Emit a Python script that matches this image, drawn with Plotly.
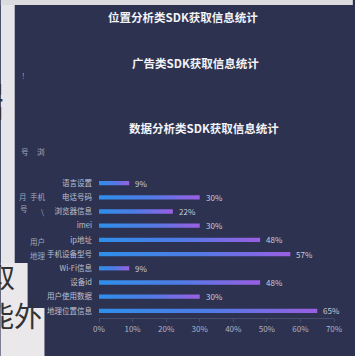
import plotly.graph_objects as go

# ---- data ----
categories = ["语言设置", "电话号码", "浏览器信息", "imei", "ip地址",
              "手机设备型号", "Wi-Fi信息", "设备id", "用户使用数据", "地理位置信息"]
values = [9, 30, 22, 30, 48, 57, 9, 48, 30, 65]
x_ticks = [0, 10, 20, 30, 40, 50, 60, 70]
x_tick_labels = ["0%", "10%", "20%", "30%", "40%", "50%", "60%", "70%"]
titles = ["位置分析类SDK获取信息统计", "广告类SDK获取信息统计", "数据分析类SDK获取信息统计"]

# ---- layout geometry ----
FW, FH = 355, 356
L, R, T, B = 99, 19, 176, 38
PW, PH = FW - L - R, FH - T - B
NAVY = "#2d3250"
LIGHT = "#e6e6ea"
FONT = "Noto Sans CJK SC"


def px(x):
    return (x - L) / PW


def py(y):
    return (FH - B - y) / PH


fig = go.Figure()

half = 0.15
for i, (c, v) in enumerate(zip(categories, values)):
    fig.add_trace(go.Scatter(
        x=[0, v, v, 0, 0],
        y=[i - half, i - half, i + half, i + half, i - half],
        mode="lines", fill="toself",
        fillgradient=dict(type="horizontal",
                          colorscale=[[0, "#2f8fea"], [0.5, "#4f7be6"], [1, "#9a5fe2"]]),
        line=dict(width=0), hoverinfo="skip", showlegend=False))

annotations = []
for i, v in enumerate(values):
    annotations.append(dict(x=v, y=i, xref="x", yref="y", text=f"{v}%",
                            showarrow=False, xanchor="left", xshift=4,
                            font=dict(family=FONT, size=8, color="#c9ccdc")))

# titles
for t, (cx, cy) in zip(titles, [(184, 17), (196, 63), (205, 128)]):
    annotations.append(dict(x=px(cx), y=py(cy), xref="paper", yref="paper", text=f"<b>{t}</b>",
                            showarrow=False, xanchor="center", yanchor="middle",
                            font=dict(family=FONT, size=11.5, color="#f2f2f7")))

# faint labels from slides behind
faint = [("ǃ", 23, 75), ("号", 24, 151), ("浏", 41, 151), ("月", 22, 196), ("手机", 37, 196),
         ("号", 23, 208), ("\\", 42, 211), ("用户", 37, 241), ("地理", 37, 255)]
for t, x, y in faint:
    annotations.append(dict(x=px(x), y=py(y), xref="paper", yref="paper", text=t,
                            showarrow=False, xanchor="center", yanchor="middle",
                            font=dict(family=FONT, size=7.5, color="#a3a8bf")))

# large dark text on the light slide at left
for t, x, y, s in [("据", 5, 99, 40), ("取", 16, 276, 28), ("能外", 44, 315, 28)]:
    annotations.append(dict(x=px(x), y=py(y), xref="paper", yref="paper", text=t,
                            showarrow=False, xanchor="right", yanchor="middle",
                            font=dict(family=FONT, size=s, color="#333333")))

shapes = []
for x0, y0, x1, y1, col in [(0, 0, 14, 356, LIGHT), (0, 0, 355, 5, "#dcdce0"),
                            (0, 263, 27, 356, "#ebe8ec"), (0, 308, 44, 356, "#ebe8ec")]:
    shapes.append(dict(type="rect", xref="paper", yref="paper",
                       x0=px(x0), x1=px(x1), y0=py(y1), y1=py(y0),
                       fillcolor=col, line=dict(width=0), layer="below"))

fig.update_layout(
    width=FW, height=FH,
    margin=dict(l=L, r=R, t=T, b=B),
    paper_bgcolor=NAVY, plot_bgcolor="rgba(0,0,0,0)",
    annotations=annotations, shapes=shapes,
    xaxis=dict(range=[0, 70], tickvals=x_ticks, ticktext=x_tick_labels,
               showgrid=False, zeroline=False, showline=True, linecolor="#464c6c",
               ticks="outside", ticklen=3, tickcolor="#464c6c",
               tickfont=dict(family=FONT, size=8, color="#aeb3c9"), fixedrange=True),
    yaxis=dict(range=[len(categories) - 0.5, -0.5], tickvals=list(range(len(categories))),
               ticktext=categories, showgrid=False, zeroline=False, showline=False,
               ticks="", ticklabelstandoff=6,
               tickfont=dict(family=FONT, size=7.5, color="#bcc0d2"), fixedrange=True),
    showlegend=False,
)

fig.write_html("out.html")
